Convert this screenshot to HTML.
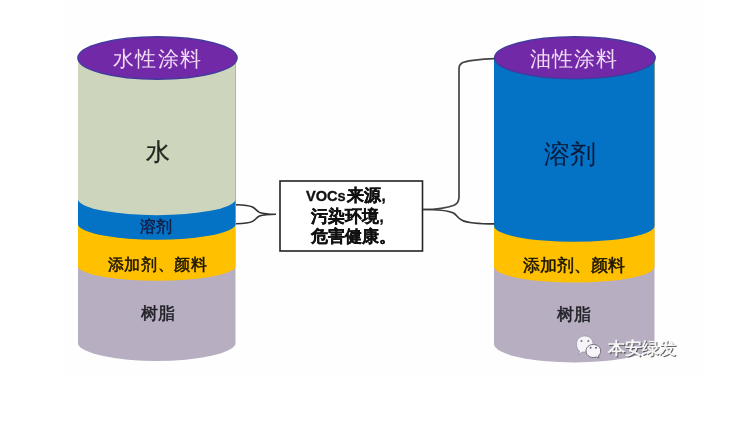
<!DOCTYPE html>
<html><head><meta charset="utf-8">
<style>
html,body{margin:0;padding:0;background:#fff;width:751px;height:430px;overflow:hidden}
svg{display:block;filter:blur(0.35px)}
text{font-family:"Liberation Sans",sans-serif}
</style></head><body>
<svg width="751" height="430" viewBox="0 0 751 430">
<rect x="0" y="0" width="751" height="430" fill="#fff"/>
<rect x="62" y="0" width="640" height="377" fill="#fefefe"/>

<!-- LEFT CYLINDER -->
<path d="M78,60 L235.5,60 L235.5,344 A79,18.5 0 0 1 78,344 Z" fill="#b8aec1"/>
<path d="M78,60 L235.5,60 L235.5,267 A79,15 0 0 1 78,267 Z" fill="#ffc000"/>
<path d="M78,60 L235.5,60 L235.5,225 A79,16 0 0 1 78,225 Z" fill="#0473c6"/>
<path d="M78,58 L235.5,58 L235.5,200 A79,16.5 0 0 1 78,200 Z" fill="#cdd6bd"/>
<ellipse cx="157.5" cy="58" rx="79.6" ry="21.2" fill="#7229a8" stroke="#423a9c" stroke-width="1.4"/>

<!-- RIGHT CYLINDER -->
<path d="M494,60 L654.5,60 L654.5,344 A80.25,18.5 0 0 1 494,344 Z" fill="#b8aec1"/>
<path d="M494,60 L654.5,60 L654.5,266.6 A80.25,16 0 0 1 494,266.6 Z" fill="#ffc000"/>
<path d="M494,58 L654.5,58 L654.5,226 A80.25,15.8 0 0 1 494,226 Z" fill="#0473c6"/>
<ellipse cx="574.9" cy="57.8" rx="80.3" ry="21" fill="#7229a8" stroke="#423a9c" stroke-width="1.4"/>

<!-- texts left -->
<text x="157.6" y="66" font-size="21" fill="#f1daf3" text-anchor="middle" letter-spacing="1.2">水性涂料</text>
<text x="157.5" y="160" font-size="24" fill="#1f261d" stroke="#1f261d" stroke-width="0.3" text-anchor="middle">水</text>
<text x="156" y="232" font-size="16" fill="#13224d" text-anchor="middle" font-weight="bold">溶剂</text>
<text x="157.6" y="270" font-size="16" letter-spacing="0.6" fill="#1a1400" stroke="#1a1400" stroke-width="0.5" text-anchor="middle">添加剂、颜料</text>
<text x="157.8" y="318.8" font-size="17" fill="#222228" stroke="#222228" stroke-width="0.5" text-anchor="middle">树脂</text>

<!-- texts right -->
<text x="574" y="66" font-size="21" fill="#f1daf3" text-anchor="middle" letter-spacing="1.2">油性涂料</text>
<text x="570" y="163" font-size="26" fill="#0a1a3a" stroke="#0a1a3a" stroke-width="0.1" text-anchor="middle">溶剂</text>
<text x="574" y="271.2" font-size="16.8" fill="#1a1400" stroke="#1a1400" stroke-width="0.5" text-anchor="middle">添加剂、颜料</text>
<text x="574.3" y="319.8" font-size="17" fill="#222228" stroke="#222228" stroke-width="0.5" text-anchor="middle">树脂</text>

<!-- box -->
<rect x="280" y="181" width="142.5" height="70" fill="#fff" stroke="#222" stroke-width="1.6"/>
<text y="201" fill="#111" stroke="#111" stroke-width="0.35" font-weight="bold"><tspan x="306" font-size="14.6">VOCs</tspan><tspan x="346.5" font-size="16.5">来源</tspan><tspan x="381.5" font-size="15">,</tspan></text>
<text y="221.5" fill="#111" stroke="#111" stroke-width="0.35" font-weight="bold"><tspan x="310.5" font-size="16.5">污染环境</tspan><tspan x="379.5" font-size="15">,</tspan></text>
<text x="310.5" y="242" font-size="16.5" fill="#111" stroke="#111" stroke-width="0.35" font-weight="bold">危害健康。</text>

<!-- braces -->
<path d="M236,204.7 C244,204.8 249,205.2 252.5,207 C255.5,208.6 256.5,211 259.5,212.4 C263,213.6 268,214.2 276,214.2 C268,214.2 263,214.8 259.5,216 C256.5,217.4 255.5,219.8 252.5,221.4 C249,223.2 244,223.6 236,223.7" fill="none" stroke="#333" stroke-width="1.6"/>
<path d="M423,209.5 C438,209.5 448,207.8 454,205.3 C457.6,203.6 459,201.5 459,197 L459,69 C459,63.5 462,61.6 473,60.3 C480,59.4 488,58.8 494.5,58.7" fill="none" stroke="#444" stroke-width="1.7"/>
<path d="M423,209.5 C438,209.5 448,210.5 453.5,213 C457,215 457.5,218 462,220.2 C466,222.2 473,223.9 494.5,223.9" fill="none" stroke="#383838" stroke-width="1.6"/>

<!-- watermark -->
<g>
<path d="M584.5,336 C589.5,336 593,339.5 593,344 C593,348.5 589.5,352 584.5,352 L582,352 L579,354.5 L579.5,351 C577.5,349.5 576.5,347 576.5,344 C576.5,339.5 580,336 584.5,336 Z" fill="#f7f5fa" stroke="#8d8a96" stroke-width="0.6"/>
<circle cx="581.5" cy="341" r="1" fill="#777"/>
<circle cx="588.3" cy="341" r="1" fill="#777"/>
<path d="M593.3,344.5 C597.5,344.5 600.7,347.3 600.7,351 C600.7,353 599.8,354.7 598.5,355.8 L599,358 L596.5,357 C595.5,357.3 594.4,357.5 593.3,357.5 C589.2,357.5 586,354.7 586,351 C586,347.3 589.2,344.5 593.3,344.5 Z" fill="#f7f5fa" stroke="#6f6c78" stroke-width="1"/>
<circle cx="590.6" cy="347.8" r="1" fill="#666"/>
<circle cx="596" cy="347.8" r="1" fill="#666"/>
</g>
<text x="643" y="355" font-size="17" fill="#4a4a4a" fill-opacity="0.85" text-anchor="middle" font-weight="bold">本安绿发</text>
<text x="642" y="354" font-size="17" fill="#f6f6f6" text-anchor="middle" font-weight="bold">本安绿发</text>
</svg>
</body></html>
